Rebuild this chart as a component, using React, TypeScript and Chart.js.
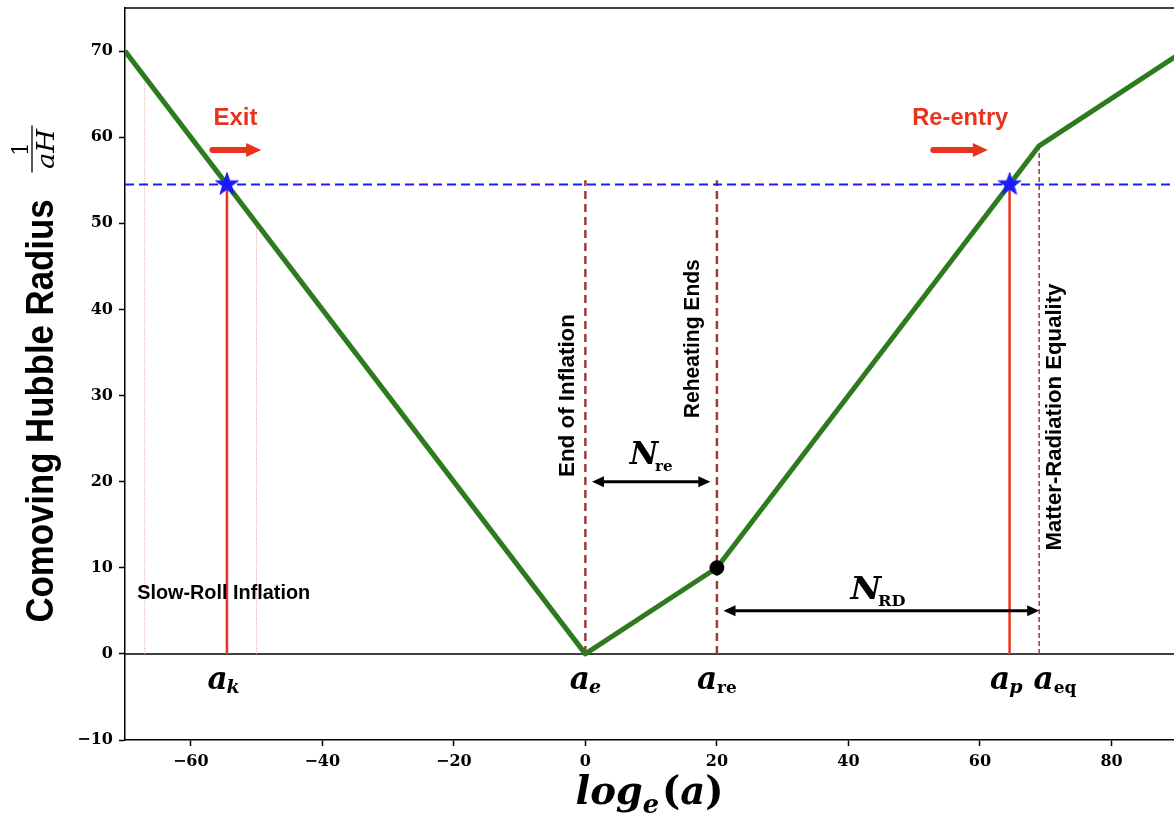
import React, { useEffect, useRef } from 'react';
import { Chart, registerables } from 'chart.js';

Chart.register(...registerables);

// Axis limits and tick spacing
const xLimits = [-70, 89.5];
const yLimits = [-10, 75];
const xTickStep = 20;
const yTickStep = 10;

// Piecewise comoving Hubble radius against ln(a)
const hubbleLogA = [-70, 0, 20, 69, 90];
const hubbleRadius = [70, 0, 10, 59, 69.5];

// Horizon crossing of the pivot mode (exit and re-entry)
const pivotRadius = 54.5;
const crossingLogA = [-54.5, 64.5];

// Epoch boundaries
const epochLogA = [0, 20, 69];
const epochTop = [55, 55, 59];
const epochNames = ['End of Inflation', 'Reheating Ends', 'Matter-Radiation Equality'];
const epochNameLogA = [-1.8, 17.3, 72.3];
const epochNameRadius = [30, 36.6, 27.5];

// End of reheating marker
const reheatEndPoint = [20, 10];

// Slow-roll window guides
const slowRollLogA = [-67, -50];
const slowRollTop = [66.5, 49.5];
const slowRollText = 'Slow-Roll Inflation';
const slowRollTextPos = [-55, 6.4];

// Scale-factor labels along the zero line
const scaleSubs = ['k', 'e', 're', 'p', 'eq'];
const scaleSubItalic = [true, true, false, true, false];
const scaleLabelLogA = [-55, 0, 20, 64, 71.4];
const scaleLabelRadius = -4.1;

// e-fold duration arrows
const nReSpan = [1, 19];
const nReLevel = 20;
const nReLabelPos = [10, 22];
const nRdSpan = [21, 69];
const nRdLevel = 5;
const nRdLabelPos = [44.5, 6.4];

// Horizon exit / re-entry arrows
const flowTexts = ['Exit', 'Re-entry'];
const flowSpans = [[-56.7, -49.3], [52.9, 61.2]];
const flowTextLogA = [-53.2, 57];
const flowArrowLevel = 58.5;
const flowTextLevel = 61.4;

// Styling
const GREEN = '#2d7a1f';
const RED = '#e8341f';
const BROWN = '#a3393a';
const BLUE = '#1a1aff';
const GUIDE = '#e59a9a';
const SANS = '"Liberation Sans", Arial, sans-serif';
const SERIF = '"DejaVu Serif", serif';

type Piece = { t: string; font: string; dy?: number; gap?: number };

function drawPieces(ctx: CanvasRenderingContext2D, pieces: Piece[], cx: number, by: number, fitWidth?: number) {
  ctx.save();
  const widths = pieces.map((p) => {
    ctx.font = p.font;
    return ctx.measureText(p.t).width;
  });
  const gaps = pieces.map((p) => p.gap ?? 0);
  const total = widths.reduce((a, b) => a + b, 0) + gaps.reduce((a, b) => a + b, 0);
  const sx = fitWidth ? fitWidth / total : 1;
  ctx.translate(cx, by);
  ctx.scale(sx, 1);
  ctx.textAlign = 'left';
  ctx.textBaseline = 'alphabetic';
  let x = -total / 2;
  pieces.forEach((p, i) => {
    x += gaps[i];
    ctx.font = p.font;
    ctx.fillText(p.t, x, p.dy ?? 0);
    x += widths[i];
  });
  ctx.restore();
}

function fitText(
  ctx: CanvasRenderingContext2D,
  text: string,
  x: number,
  y: number,
  font: string,
  width: number,
  angle = 0,
  align: CanvasTextAlign = 'center'
) {
  ctx.save();
  ctx.font = font;
  const w = ctx.measureText(text).width;
  ctx.translate(x, y);
  ctx.rotate(angle);
  ctx.scale(width / w, 1);
  ctx.textAlign = align;
  ctx.textBaseline = 'alphabetic';
  ctx.fillText(text, 0, 0);
  ctx.restore();
}

function drawArrow(
  ctx: CanvasRenderingContext2D,
  x1: number,
  y1: number,
  x2: number,
  y2: number,
  o: { color: string; width: number; head: number; half: number; both: boolean; cap: CanvasLineCap }
) {
  const ang = Math.atan2(y2 - y1, x2 - x1);
  const c = Math.cos(ang);
  const s = Math.sin(ang);
  ctx.save();
  ctx.strokeStyle = o.color;
  ctx.fillStyle = o.color;
  ctx.lineWidth = o.width;
  ctx.lineCap = o.cap;
  const sx = o.both ? x1 + c * o.head * 0.8 : x1;
  const sy = o.both ? y1 + s * o.head * 0.8 : y1;
  ctx.beginPath();
  ctx.moveTo(sx, sy);
  ctx.lineTo(x2 - c * o.head * 0.8, y2 - s * o.head * 0.8);
  ctx.stroke();
  const head = (tx: number, ty: number, dc: number, ds: number) => {
    ctx.beginPath();
    ctx.moveTo(tx, ty);
    ctx.lineTo(tx - dc * o.head - ds * o.half, ty - ds * o.head + dc * o.half);
    ctx.lineTo(tx - dc * o.head + ds * o.half, ty - ds * o.head - dc * o.half);
    ctx.closePath();
    ctx.fill();
  };
  head(x2, y2, c, s);
  if (o.both) head(x1, y1, -c, -s);
  ctx.restore();
}

function makeStar(radius: number, color: string): HTMLCanvasElement {
  const size = Math.ceil(radius * 2 + 4);
  const cv = document.createElement('canvas');
  cv.width = size;
  cv.height = size;
  const g = cv.getContext('2d')!;
  g.translate(size / 2, size / 2);
  g.beginPath();
  for (let i = 0; i < 10; i++) {
    const r = i % 2 === 0 ? radius : radius * 0.39;
    const a = -Math.PI / 2 + (i * Math.PI) / 5;
    const px = r * Math.cos(a);
    const py = r * Math.sin(a);
    if (i === 0) g.moveTo(px, py);
    else g.lineTo(px, py);
  }
  g.closePath();
  g.fillStyle = color;
  g.fill();
  g.strokeStyle = color;
  g.lineWidth = 1;
  g.stroke();
  return cv;
}

const tickLabel = (v: number | string) => {
  const n = Number(v);
  return n < 0 ? '\u2212' + Math.abs(n) : String(n);
};

const annotationPlugin = {
  id: 'cosmoAnnotations',
  afterDatasetsDraw(chart: any) {
    const ctx: CanvasRenderingContext2D = chart.ctx;
    const xs = chart.scales.x;
    const ys = chart.scales.y;
    const px = (v: number) => xs.getPixelForValue(v);
    const py = (v: number) => ys.getPixelForValue(v);

    ctx.save();
    ctx.fillStyle = '#000';

    // Epoch names, rotated
    epochNames.forEach((name, i) => {
      const lens = [163, 159, 267];
      fitText(ctx, name, px(epochNameLogA[i]), py(epochNameRadius[i]), `bold 22px ${SANS}`, lens[i], -Math.PI / 2);
    });

    // Slow-roll label
    fitText(ctx, slowRollText, px(slowRollTextPos[0]), py(slowRollTextPos[1]), `bold 20px ${SANS}`, 173);

    // Scale-factor labels
    scaleSubs.forEach((sub, i) => {
      const italic = scaleSubItalic[i];
      drawPieces(
        ctx,
        [
          { t: 'a', font: `italic bold 31px ${SERIF}` },
          {
            t: sub,
            font: italic ? `italic bold 19px ${SERIF}` : `bold 17px ${SERIF}`,
            dy: 4,
            gap: italic ? -1 : 0,
          },
        ],
        px(scaleLabelLogA[i]),
        py(scaleLabelRadius)
      );
    });

    // Duration arrows
    const blackArrow = { color: '#000', width: 3, head: 12, half: 5.5, both: true, cap: 'butt' as CanvasLineCap };
    drawArrow(ctx, px(nReSpan[0]), py(nReLevel), px(nReSpan[1]), py(nReLevel), blackArrow);
    drawArrow(ctx, px(nRdSpan[0]), py(nRdLevel), px(nRdSpan[1]), py(nRdLevel), blackArrow);

    drawPieces(
      ctx,
      [
        { t: 'N', font: `italic bold 31px ${SERIF}` },
        { t: 're', font: `bold 15px ${SERIF}`, dy: 7, gap: -3 },
      ],
      px(nReLabelPos[0]),
      py(nReLabelPos[1]),
      43
    );
    drawPieces(
      ctx,
      [
        { t: 'N', font: `italic bold 31px ${SERIF}` },
        { t: 'RD', font: `bold 15px ${SERIF}`, dy: 7, gap: -3 },
      ],
      px(nRdLabelPos[0]),
      py(nRdLabelPos[1]),
      55
    );

    // Exit / re-entry arrows and captions
    ctx.fillStyle = RED;
    flowTexts.forEach((t, i) => {
      const span = flowSpans[i];
      drawArrow(ctx, px(span[0]), py(flowArrowLevel), px(span[1]), py(flowArrowLevel), {
        color: RED,
        width: 6,
        head: 15,
        half: 7,
        both: false,
        cap: 'round',
      });
      fitText(ctx, t, px(flowTextLogA[i]), py(flowTextLevel), `bold 23px ${SANS}`, i === 0 ? 44 : 96);
    });
    ctx.restore();
  },
  afterDraw(chart: any) {
    const ctx: CanvasRenderingContext2D = chart.ctx;
    const area = chart.chartArea;
    ctx.save();

    // Top spine
    ctx.strokeStyle = '#000';
    ctx.lineWidth = 1.5;
    ctx.beginPath();
    ctx.moveTo(area.left, area.top);
    ctx.lineTo(area.right, area.top);
    ctx.stroke();

    ctx.fillStyle = '#000';

    // x-axis title: log_e(a)
    const bigBI = `italic bold 39px ${SERIF}`;
    drawPieces(
      ctx,
      [
        { t: 'log', font: bigBI },
        { t: 'e', font: `italic bold 26px ${SERIF}`, dy: 9 },
        { t: '(', font: `bold 39px ${SERIF}`, gap: 3 },
        { t: 'a', font: bigBI },
        { t: ')', font: `bold 39px ${SERIF}` },
      ],
      (area.left + area.right) / 2,
      area.bottom + 64,
      148
    );

    // y-axis title: Comoving Hubble Radius 1/(aH)
    const mainLen = 423;
    const fracLen = 47;
    const gap = 27;
    const total = mainLen + gap + fracLen;
    const startY = (area.top + area.bottom) / 2 + total / 2;
    ctx.translate(53, startY);
    ctx.rotate(-Math.PI / 2);
    fitText(ctx, 'Comoving Hubble Radius', 0, 0, `bold 38px ${SANS}`, mainLen, 0, 'left');
    const fc = mainLen + gap + fracLen / 2;
    ctx.strokeStyle = '#000';
    ctx.lineWidth = 1.3;
    ctx.beginPath();
    ctx.moveTo(mainLen + gap, -21);
    ctx.lineTo(mainLen + gap + fracLen, -21);
    ctx.stroke();
    ctx.font = `22px ${SERIF}`;
    ctx.textAlign = 'center';
    ctx.fillText('1', fc, -25);
    fitText(ctx, 'aH', fc, 1, `italic 25px ${SERIF}`, 40);
    ctx.restore();
  },
};

// Drop the label overhang padding Chart.js reserves so the plot box spans the full frame
const fixAxisSize = (size: { width?: number; height?: number }) => (scale: any) => {
  if (size.width !== undefined) scale.width = size.width;
  if (size.height !== undefined) scale.height = size.height;
  scale.paddingTop = 0;
  scale.paddingBottom = 0;
  scale.paddingLeft = 0;
  scale.paddingRight = 0;
};

export default function App() {
  const canvasRef = useRef<HTMLCanvasElement | null>(null);

  useEffect(() => {
    const canvas = canvasRef.current;
    if (!canvas) return;
    const star = makeStar(12, BLUE);

    const segment = (x1: number, y1: number, x2: number, y2: number) => [
      { x: x1, y: y1 },
      { x: x2, y: y2 },
    ];

    const datasets: any[] = [];

    datasets.push({
      label: 'hubble',
      data: hubbleLogA.map((x, i) => ({ x, y: hubbleRadius[i] })),
      borderColor: GREEN,
      borderWidth: 5,
      borderJoinStyle: 'round',
      pointRadius: 0,
      clip: 0,
      order: 2,
    });
    datasets.push({
      label: 'pivot',
      data: segment(xLimits[0], pivotRadius, xLimits[1], pivotRadius),
      borderColor: BLUE,
      borderWidth: 2,
      borderDash: [9, 5],
      pointRadius: 0,
      clip: 0,
      order: 3,
    });
    crossingLogA.forEach((x) =>
      datasets.push({
        label: 'crossing',
        data: segment(x, 0, x, pivotRadius),
        borderColor: RED,
        borderWidth: 2.5,
        pointRadius: 0,
        order: 4,
      })
    );
    epochLogA.forEach((x, i) =>
      datasets.push({
        label: 'epoch',
        data: segment(x, 0, x, epochTop[i]),
        borderColor: BROWN,
        borderWidth: i === 2 ? 1.5 : 2.5,
        borderDash: i === 2 ? [5, 3] : [8, 5],
        pointRadius: 0,
        order: 5,
      })
    );
    slowRollLogA.forEach((x, i) =>
      datasets.push({
        label: 'guide',
        data: segment(x, 0, x, slowRollTop[i]),
        borderColor: GUIDE,
        borderWidth: 1,
        borderDash: [1, 1.5],
        pointRadius: 0,
        order: 6,
      })
    );
    datasets.push({
      label: 'zero',
      data: segment(xLimits[0], 0, xLimits[1], 0),
      borderColor: '#000',
      borderWidth: 1.5,
      pointRadius: 0,
      clip: 0,
      order: 7,
    });
    datasets.push({
      label: 'stars',
      data: crossingLogA.map((x) => ({ x, y: pivotRadius })),
      showLine: false,
      pointStyle: star,
      pointRadius: 12,
      order: 0,
    });
    datasets.push({
      label: 'reheat',
      data: [{ x: reheatEndPoint[0], y: reheatEndPoint[1] }],
      showLine: false,
      pointRadius: 7,
      pointBackgroundColor: '#000',
      pointBorderColor: '#000',
      order: 1,
    });

    const tickFont = { family: '"DejaVu Serif", serif', size: 16, weight: 'bold' as const };

    const chart = new Chart(canvas, {
      type: 'line',
      data: { datasets },
      options: {
        animation: false,
        responsive: false,
        maintainAspectRatio: false,
        devicePixelRatio: 1,
        layout: { autoPadding: false, padding: { top: 8, left: 0, right: 0, bottom: 0 } },
        plugins: { legend: { display: false }, tooltip: { enabled: false } },
        events: [],
        scales: {
          x: {
            type: 'linear',
            min: xLimits[0],
            max: xLimits[1],
            ticks: {
              stepSize: xTickStep,
              includeBounds: false,
              autoSkip: false,
              maxRotation: 0,
              color: '#000',
              font: tickFont,
              padding: 6,
              callback: tickLabel,
            },
            grid: {
              display: true,
              drawOnChartArea: false,
              drawTicks: true,
              tickLength: 6,
              tickColor: '#000',
              tickWidth: 1.5,
            },
            border: { display: true, color: '#000', width: 1.5 },
            afterFit: fixAxisSize({ height: 80 }),
          },
          y: {
            type: 'linear',
            min: yLimits[0],
            max: yLimits[1],
            ticks: {
              stepSize: yTickStep,
              includeBounds: false,
              autoSkip: false,
              color: '#000',
              font: tickFont,
              padding: 6,
              callback: tickLabel,
            },
            grid: {
              display: true,
              drawOnChartArea: false,
              drawTicks: true,
              tickLength: 6,
              tickColor: '#000',
              tickWidth: 1.5,
            },
            border: { display: true, color: '#000', width: 1.5 },
            afterFit: fixAxisSize({ width: 125 }),
          },
        },
      } as any,
      plugins: [annotationPlugin],
    });

    return () => chart.destroy();
  }, []);

  return (
    <div style={{ position: 'fixed', left: 0, top: 0, width: 1174, height: 820, background: '#fff' }}>
      <canvas ref={canvasRef} width={1174} height={820} style={{ display: 'block', width: 1174, height: 820 }} />
    </div>
  );
}
